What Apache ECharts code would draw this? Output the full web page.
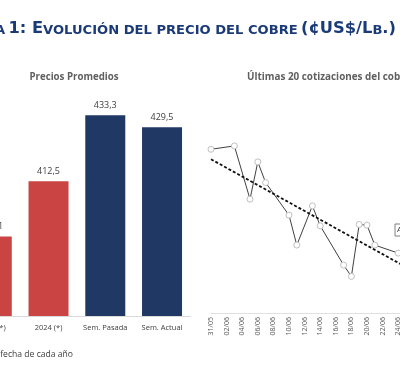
<!DOCTYPE html>
<html><head><meta charset="utf-8">
<script src="https://cdn.jsdelivr.net/npm/echarts@6/dist/echarts.min.js"></script>
<style>html,body{margin:0;padding:0;background:#fff;overflow:hidden;width:400px;height:373px;position:relative}
#c{position:absolute;left:-60px;top:0;width:520px;height:373px}</style>
</head><body><div id="c"></div>
<script>
// Left panel: average prices (¢US$/Lb.)
const barCategories = ['2023 (*)', '2024 (*)', 'Sem. Pasada', 'Sem. Actual'];
const barValues = [395.1, 412.5, 433.3, 429.5];

// Right panel: last 20 copper quotations (calendar days, null = no quote)
const quoteDates = ['31/05','01/06','02/06','03/06','04/06','05/06','06/06','07/06','08/06','09/06',
  '10/06','11/06','12/06','13/06','14/06','15/06','16/06','17/06','18/06','19/06',
  '20/06','21/06','22/06','23/06','24/06','25/06','26/06','27/06'];
const quotePrices = [444.6, null, null, 445.1, null, 437.1, 442.7, 439.6, null, null,
  434.7, 430.2, null, 436.1, 433.1, null, null, 427.2, 425.5, 433.3,
  433.2, 430.2, null, null, 429.0, 428.0, 426.5, 427.5];
// Linear trend line endpoints
const trendDates = ['31/05', '27/06'];
const trendValues = [443.1, 425.6];

const RED = '#C94443', BLUE = '#203864';
const OX = 60; // canvas is offset 60px to the left of the viewport
const chart = echarts.init(document.getElementById('c'), null, {renderer: 'canvas'});
const fmt = v => v.toFixed(1).replace('.', ',');

chart.setOption({
  animation: false,
  backgroundColor: '#ffffff',
  grid: [
    {left: OX - 36.6, right: 520 - (OX + 190.4), top: 94, bottom: 57},
    {left: OX + 211, right: 520 - (OX + 421.6), top: 100, bottom: 60}
  ],
  xAxis: [
    {type: 'category', gridIndex: 0, data: barCategories,
      axisLine: {lineStyle: {color: '#d9d9d9'}}, axisTick: {show: false},
      axisLabel: {color: '#404040', fontSize: 7.5, fontFamily: 'Open Sans', margin: 8, interval: 0}},
    {type: 'category', gridIndex: 1, data: quoteDates, boundaryGap: false,
      axisLine: {lineStyle: {color: '#e0e0e0'}}, axisTick: {show: false},
      axisLabel: {color: '#595959', fontSize: 7, fontFamily: 'Open Sans', rotate: 90, interval: 1, margin: 4}}
  ],
  yAxis: [
    {type: 'value', gridIndex: 0, min: 370, max: 440, show: false},
    {type: 'value', gridIndex: 1, min: 420, max: 452, show: false}
  ],
  series: [
    {type: 'bar', xAxisIndex: 0, yAxisIndex: 0, data: barValues, barWidth: 40,
      itemStyle: {color: p => p.dataIndex < 2 ? RED : BLUE},
      label: {show: true, position: 'top', distance: 5, color: '#404040', fontSize: 9,
        fontFamily: 'Open Sans', formatter: p => fmt(p.value)}},
    {type: 'line', xAxisIndex: 1, yAxisIndex: 1, data: quotePrices, connectNulls: true,
      symbol: 'circle', symbolSize: 6, showAllSymbol: true,
      lineStyle: {color: '#404040', width: 1},
      itemStyle: {color: '#ffffff', borderColor: '#bfbfbf', borderWidth: 1},
      markLine: {silent: true, symbol: ['none', 'none'], label: {show: false},
        lineStyle: {color: '#111', width: 1.8, type: [3, 2]},
        data: [[{coord: [trendDates[0], trendValues[0]]}, {coord: [trendDates[1], trendValues[1]]}]]}}
  ],
  graphic: [
    {type: 'text', right: 520 - (OX + 396), top: 21, style: {
      text: '{b|F}{s|IGURA} {b|1: E}{s|VOLUCIÓN DEL PRECIO DEL COBRE} {b|(¢US$/L}{s|B}{b|.)}',
      fill: '#1B3A78',
      rich: {
        b: {fontSize: 16.3, fontWeight: 'bold', fontFamily: 'DejaVu Sans', fill: '#1B3A78', verticalAlign: 'bottom', lineHeight: 17},
        s: {fontSize: 13.1, fontWeight: 'bold', fontFamily: 'DejaVu Sans', fill: '#1B3A78', verticalAlign: 'bottom', lineHeight: 14}
      }}},
    {type: 'text', x: OX + 74, y: 77, style: {text: 'Precios Promedios', align: 'center', verticalAlign: 'middle',
      fontSize: 9.7, fontWeight: 'bold', fontFamily: 'Open Sans', fill: '#606060'}},
    {type: 'text', x: OX + 247, y: 77, style: {text: 'Últimas 20 cotizaciones del cobre (¢US$/Lb.)', align: 'left', verticalAlign: 'middle',
      fontSize: 9.9, fontWeight: 'bold', fontFamily: 'Open Sans', fill: '#606060'}},
    {type: 'text', x: OX + 73, y: 355, style: {text: '(*) Promedio a la fecha de cada año', align: 'right', verticalAlign: 'middle',
      fontSize: 8.6, fontFamily: 'Open Sans', fill: '#404040'}},
    {type: 'group', x: OX + 395, y: 224, children: [
      {type: 'rect', shape: {x: 0, y: 0, width: 40, height: 12}, style: {fill: '#fff', stroke: '#7f7f7f', lineWidth: 1}},
      {type: 'text', x: 2, y: 6, style: {text: 'Actual', verticalAlign: 'middle', fontSize: 8, fontFamily: 'Open Sans', fill: '#404040'}}
    ]}
  ]
});
</script></body></html>
